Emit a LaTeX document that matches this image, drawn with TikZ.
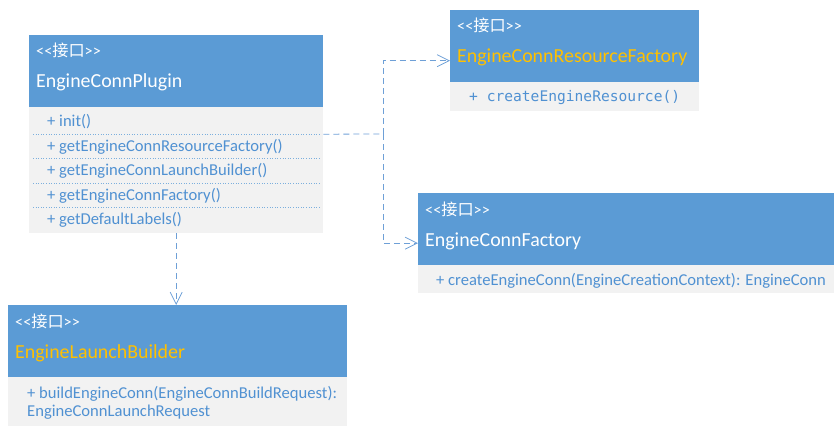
\documentclass[tikz,border=0pt]{standalone}
\usepackage{fontspec}
\setmainfont{Carlito}
\newfontfamily\cjkfont{Noto Sans CJK SC}
\newfontfamily\monofont{DejaVu Sans Mono}
\usepackage{xcolor}
\usepackage{tikz}
\usetikzlibrary{arrows.meta, positioning}
\definecolor{hdrblue}{RGB}{91, 155, 213}
\definecolor{bodygray}{RGB}{242, 242, 242}
\definecolor{txtblue}{RGB}{80, 145, 210}
\definecolor{linkblue}{RGB}{110, 160, 215}
\definecolor{nameorange}{RGB}{255, 192, 0}
\newcommand{\stereo}{<\kern0pt<{\cjkfont 接口}>\kern0pt>}

\begin{document}
\begin{tikzpicture}[x=1pt, y=-1pt,
    classbox/.style={fill=bodygray, anchor=north west, inner sep=0pt},
    headbox/.style={fill=hdrblue, anchor=north west, inner sep=0pt, minimum height=72pt},
    stereotxt/.style={anchor=base west, inner sep=0pt, text=white, font=\fontsize{16.2}{19}\selectfont},
    nametxt/.style={anchor=base west, inner sep=0pt, font=\fontsize{19.9}{23}\selectfont},
    optxt/.style={anchor=base west, inner sep=0pt, text=txtblue, font=\fontsize{16.6}{20}\selectfont},
    sepline/.style={hdrblue!80, dotted, line width=0.6pt},
    dep/.style={linkblue, line width=0.8pt, dash pattern=on 6pt off 4pt, -{Straight Barb[length=12pt, width=12pt]}}]
\useasboundingbox (0,0) rectangle (838,436);

% EngineConnPlugin
\node[classbox, minimum width=294pt, minimum height=198pt] (plugin) at (29,35) {};
\node[headbox, minimum width=294pt] (pluginhead) at (29,35) {};
\node[stereotxt] (pluginst) at (36,57) {\stereo};
\node[nametxt, text=white] (pluginname) at (36,88) {EngineConnPlugin};
\foreach \y in {134,158.7,183,207.7} {
    \draw[sepline] (33,\y) -- (320,\y);
}
\foreach \t/\y [count=\i] in {init()/126, getEngineConnResourceFactory()/151, getEngineConnLaunchBuilder()/175.5, getEngineConnFactory()/200, getDefaultLabels()/224.5} {
    \node[optxt] (pluginop\i) at (47,\y) {+ \t};
}

% EngineConnResourceFactory
\node[classbox, minimum width=249pt, minimum height=101pt] (resfac) at (450,10) {};
\node[headbox, minimum width=249pt] (resfachead) at (450,10) {};
\node[stereotxt] (resfacst) at (457,32) {\stereo};
\node[nametxt, text=nameorange] (resfacname) at (457,63) {EngineConnResourceFactory};
\node[optxt, font=\monofont\fontsize{14.6}{18}\selectfont] (resfacop) at (469,102) {+ createEngineResource()};

% EngineConnFactory
\node[classbox, minimum width=416pt, minimum height=100pt] (connfac) at (418,193) {};
\node[headbox, minimum width=416pt] (connfachead) at (418,193) {};
\node[stereotxt] (connfacst) at (425,215) {\stereo};
\node[nametxt, text=white] (connfacname) at (425,246) {EngineConnFactory};
\node[optxt] (connfacop) at (436,285) {+ createEngineConn(EngineCreationContext): EngineConn};

% EngineLaunchBuilder
\node[classbox, minimum width=339pt, minimum height=121pt] (builder) at (8,305) {};
\node[headbox, minimum width=339pt] (builderhead) at (8,305) {};
\node[stereotxt] (builderst) at (15,327) {\stereo};
\node[nametxt, text=nameorange] (buildername) at (15,358) {EngineLaunchBuilder};
\node[optxt] (builderop) at (27,398) {+ buildEngineConn(EngineConnBuildRequest):};
\node[optxt] (builderret) at (27,416) {EngineConnLaunchRequest};

% dependencies
\coordinate (split) at (383,134);
\draw[dep, -] (plugin.east) -- (split);
\draw[dep] (split) |- (resfac.west);
\draw[dep] (split) |- (connfac.west);
\draw[dep] (plugin.south) -- (plugin.south |- builder.north);
\end{tikzpicture}
\end{document}
